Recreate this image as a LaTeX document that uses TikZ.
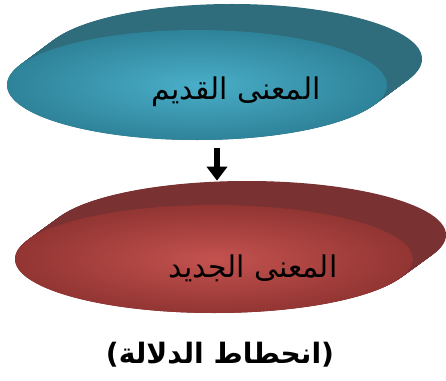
\documentclass[tikz,border=0pt]{standalone}
\usepackage{fontspec}
\newfontfamily\arabicfont[Script=Arabic]{DejaVu Sans}
\TeXXeTstate=1
\usetikzlibrary{shapes.geometric,arrows.meta}
\definecolor{oldlight}{HTML}{4AAEC8}
\definecolor{olddark}{HTML}{2E8399}
\definecolor{oldside}{HTML}{2F6D7C}
\definecolor{newlight}{HTML}{C4524F}
\definecolor{newdark}{HTML}{923533}
\definecolor{newside}{HTML}{7A3132}

\begin{document}
\begin{tikzpicture}[x=0.02cm,y=0.02cm,
		face/.style={ellipse, draw=none, inner sep=0pt, shading=radial},
		meaning/.style={font=\arabicfont\fontsize{17}{20}\selectfont},
		downarrow/.style={line width=3.8pt, -{Triangle[width=11.5pt,length=8pt]}}]
			\useasboundingbox (0,0) rectangle (446,380);
			
			% thickness of the discs
			\foreach \t in {0,0.02,...,1.001}
				\fill[oldside] (197+35*\t,295+26*\t) ellipse [x radius=190, y radius=55];
			\foreach \t in {0,0.02,...,1.001}
				\fill[newside] (214+33*\t,121+24*\t) ellipse [x radius=199, y radius=54];
			
			\node[face, inner color=oldlight, outer color=olddark, minimum width=7.6cm, minimum height=2.2cm] (old) at (197,295) {};
			\node[face, inner color=newlight, outer color=newdark, minimum width=7.96cm, minimum height=2.16cm] (new) at (214,121) {};
			
			\node[meaning] (oldtext) at (236,288) {\beginR المعنى القديم\endR};
			\node[meaning] (newtext) at (253,112) {\beginR المعنى الجديد\endR};
			\node[font=\arabicfont\bfseries\fontsize{16}{19}\selectfont] (label) at (220,25) {\beginR(انحطاط الدلالة)\endR};
			
			\draw[downarrow] ([shift={(20,-8)}]old.south) -- ([shift={(3,24)}]new.north);
		\end{tikzpicture}
\end{document}
